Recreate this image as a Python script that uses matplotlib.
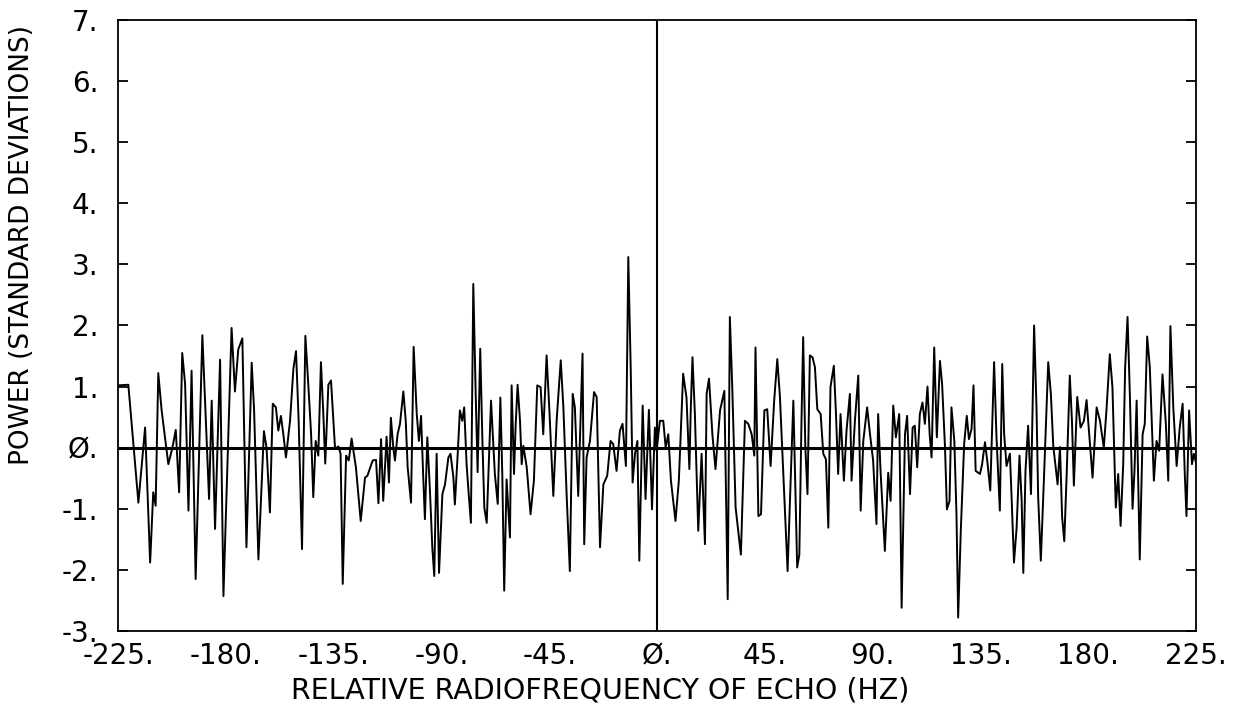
import matplotlib
matplotlib.use("Agg")
from matplotlib import pyplot

# frequency (Hz) and power (standard deviations)
freq = [-225.0, -220.7, -216.5, -213.7, -211.6, -210.3, -209.3, -208.2, -206.8, -204.0,
        -202.3, -200.9, -199.5, -198.2, -197.0, -195.6, -194.3, -192.6, -189.8, -187.0,
        -185.9, -184.5, -182.4, -181.0, -177.6, -176.2, -174.8, -173.1, -171.4, -169.2,
        -168.2, -166.4, -164.1, -163.0, -161.6, -160.4, -159.1, -158.1, -157.0, -156.0,
        -154.9, -153.2, -151.8, -150.7, -149.6, -148.2, -146.8, -145.6, -144.4, -143.5,
        -142.5, -141.4, -140.3, -139.3, -138.5, -137.2, -136.1, -134.4, -133.0, -132.1,
        -131.2, -129.8, -128.7, -127.5, -125.7, -123.7, -121.9, -120.9, -118.7, -117.3,
        -116.3, -115.2, -114.3, -112.9,
        -111.9, -111.1, -110.1, -109.4, -108.3, -107.3, -105.9, -104.9, -104.1, -102.7,
        -101.6, -100.3, -99.4, -98.5, -97.6, -96.9, -95.9, -94.8, -93.8, -93.0,
        -92.0, -91.0, -89.6, -88.5, -87.1, -86.2, -85.0, -84.4, -83.2, -82.3,
        -81.3, -80.5, -79.5, -78.8, -77.7, -76.7, -75.7, -74.9, -73.8, -72.9,
        -72.1, -71.1, -69.3, -67.7, -66.5, -65.4, -64.6, -63.8, -62.8, -61.4,
        -60.7, -59.7, -59.0, -58.2, -57.2, -56.5,
        -55.8, -54.4, -52.8, -51.4, -50.0, -48.6, -47.5, -46.1, -45.0, -43.3,
        -41.9, -40.2, -39.1, -37.7, -36.4, -35.2, -34.3, -32.9, -32.2, -31.1,
        -30.4, -29.4, -28.0, -26.3, -25.2, -23.8, -22.4, -20.8, -19.4, -18.3,
        -16.9, -15.5, -14.4, -13.0, -12.0, -11.0, -10.2, -9.2, -8.2, -7.4,
        -6.0, -4.8, -3.4, -2.1, -0.9,
        -0.2, 1.2, 2.6, 3.6, 4.7, 5.8, 7.7, 9.1, 10.9, 12.3,
        13.5, 14.1, 14.8, 15.8, 17.2, 18.6, 20.0, 20.7, 21.7, 23.1,
        24.4, 26.3, 28.1, 29.5, 30.4, 31.4, 32.8, 35.0, 36.7, 38.1,
        39.5, 40.6, 41.1, 42.3, 43.4, 44.8, 46.0, 47.4, 48.9, 50.2,
        51.3, 52.7, 54.5, 56.9,
        58.5, 59.4, 60.3, 61.0, 61.9, 62.8, 63.8, 64.9, 65.9, 66.9,
        68.3, 69.4, 70.5, 71.5, 72.4, 73.8, 74.7, 75.6, 76.6, 78.0,
        79.1, 80.5, 81.2, 82.6, 84.0, 85.0, 86.1, 87.7, 88.9, 90.2,
        91.6, 92.3, 93.3, 95.1, 96.5, 97.5, 98.6, 99.7, 101.1, 102.1,
        103.5, 104.4, 105.6, 106.7, 107.6, 108.6, 109.7, 110.8, 111.8, 112.9,
        113.8, 114.6, 115.7, 116.8, 118.1, 119.0, 120.2, 121.0, 122.1, 122.9,
        124.1, 125.0, 125.7, 126.8, 128.2, 129.3, 130.2, 131.3, 132.1, 133.0,
        134.8, 135.7, 136.9, 138.0, 139.1, 140.7, 141.7, 143.1, 144.1, 144.9,
        145.9, 147.3, 148.0, 149.0, 150.1, 151.3, 152.2, 152.9, 153.8, 154.9,
        156.1, 157.4, 158.4, 159.1, 160.2, 161.6, 163.3, 164.4, 165.4, 167.2,
        168.2, 169.1, 170.0,
        171.0, 172.3, 173.2, 174.0, 175.4, 176.8, 178.2, 179.3, 180.4, 181.8,
        183.5, 184.9, 186.5, 187.6, 189.0, 190.1, 191.5, 192.5, 193.5, 194.6,
        195.4, 196.4, 197.4, 198.5, 199.3, 200.2, 201.5, 202.7, 203.6, 204.6,
        205.7, 207.4, 208.5, 209.6, 211.0, 212.4, 213.4, 214.3, 215.5, 216.9,
        218.2, 219.4, 220.3, 221.0, 222.1, 223.3, 224.1, 225.0]

power = [1.02, 1.03, -0.90, 0.33, -1.88, -0.73, -0.95, 1.22, 0.61, -0.27,
         0.00, 0.29, -0.73, 1.55, 1.04, -1.03, 1.26, -2.15, 1.84, -0.84,
         0.77, -1.33, 1.44, -2.43, 1.96, 0.92, 1.61, 1.79, -1.63, 1.39,
         0.61, -1.83, 0.27, 0.00, -1.06, 0.72, 0.66, 0.28, 0.52, 0.22,
         -0.16, 0.44, 1.29, 1.58, 0.44, -1.66, 1.83, 1.05, 0.22, -0.81,
         0.11, -0.13, 1.40, 0.55, -0.26, 1.03, 1.10, -0.02, 0.02, -0.10,
         -2.23, -0.13, -0.21, 0.15, -0.32, -1.20, -0.49, -0.46, -0.21, -0.20,
         -0.91, 0.14, -0.87, 0.18,
         -0.57, 0.49, 0.00, -0.21, 0.22, 0.39, 0.92, 0.44, -0.32, -0.90,
         1.65, 0.55, 0.11, 0.52, -0.48, -1.17, 0.17, -0.70, -1.64, -2.10,
         -0.10, -2.05, -0.76, -0.60, -0.16, -0.10, -0.49, -0.93, -0.10, 0.61,
         0.44, 0.66, -0.27, -0.66, -1.23, 2.68, 0.88, -0.40, 1.62, 0.11,
         -0.98, -1.23, 0.77, -0.43, -0.92, 0.82, -0.43, -2.34, -0.52, -1.47,
         1.02, -0.43, 0.39, 1.03, 0.44, -0.27,
         0.03, -0.32, -1.09, -0.54, 1.02, 0.99, 0.22, 1.51, 0.66, -0.79,
         0.45, 1.43, 0.66, -0.81, -2.02, 0.88, 0.66, -0.79, 0.11, 1.54,
         -1.58, -0.16, 0.11, 0.91, 0.83, -1.63, -0.60, -0.46, 0.11, 0.06,
         -0.38, 0.28, 0.39, -0.30, 3.12, 1.32, -0.57, -0.10, 0.11, -1.85,
         0.69, -0.84, 0.62, -1.01, 0.33,
         -0.05, 0.44, 0.44, 0.00, 0.22, -0.54, -1.20, -0.54, 1.21, 0.82,
         -0.35, 0.66, 1.48, 0.55, -1.36, -0.10, -1.58, 0.88, 1.13, 0.22,
         -0.35, 0.61, 0.93, -2.48, 2.14, 0.99, -0.98, -1.75, 0.44, 0.39,
         0.22, -0.13, 1.64, -1.12, -1.09, 0.61, 0.63, -0.30, 0.77, 1.45,
         0.83, -0.43, -2.02, 0.77,
         -1.96, -1.75, 0.44, 1.81, 0.01, -0.76, 1.51, 1.48, 1.32, 0.63,
         0.55, -0.10, -0.19, -1.31, 0.99, 1.34, 0.55, -0.43, 0.55, -0.54,
         0.28, 0.88, -0.54, 0.44, 1.18, -1.03, 0.11, 0.66, 0.22, -0.21,
         -1.25, 0.55, -0.38, -1.69, -0.41, -0.87, 0.69, 0.17, 0.55, -2.62,
         0.22, 0.52, -0.76, 0.33, 0.36, -0.32, 0.55, 0.74, 0.39, 1.00,
         0.22, -0.16, 1.64, 0.17, 1.42, 1.04, 0.01, -1.01, -0.87, 0.66,
         0.11, -1.09, -2.78, -1.36, 0.06, 0.52, 0.14, 0.31, 1.02, -0.38,
         -0.43, -0.27, 0.09, -0.27, -0.70, 1.40, 0.17, -1.03, 1.37, 0.22,
         -0.30, -0.10, -0.81, -1.88, -1.31, -0.13, -0.87, -2.05, -0.38, 0.36,
         -0.76, 2.00, 0.66, -0.81, -1.85, -0.41, 1.40, 0.88, 0.03, -0.60,
         0.01, -1.14, -1.53,
         -0.43, 1.18, 0.44, -0.62, 0.83, 0.33, 0.44, 0.78, 0.22, -0.49,
         0.66, 0.44, 0.00, 0.61, 1.53, 0.99, -0.98, -0.43, -1.28, -0.27,
         1.31, 2.14, 0.83, -1.00, -0.38, 0.77, -1.83, 0.22, 0.39, 1.82,
         1.32, -0.54, 0.11, -0.05, 1.20, 0.39, -0.54, 1.99, 0.66, -0.30,
         0.33, 0.72, -0.43, -1.12, 0.61, -0.27, -0.10, -0.25]

xticks = [-225, -180, -135, -90, -45, 0, 45, 90, 135, 180, 225]
xticklabels = ["-225.", "-180.", "-135.", "-90.", "-45.", "Ø.", "45.", "90.", "135.", "180.", "225."]
yticks = [7, 6, 5, 4, 3, 2, 1, 0, -1, -2, -3]
yticklabels = ["7.", "6.", "5.", "4.", "3.", "2.", "1.", "Ø.", "-1.", "-2.", "-3."]

fig = pyplot.figure(figsize=(12.49, 7.25), dpi=100)
ax = fig.add_axes([0.0945, 0.1297, 0.8631, 0.8427])

ax.plot(freq, power, color="black", linewidth=1.4)
ax.axhline(0, color="black", linewidth=2.2)
ax.axvline(0, color="black", linewidth=1.5)

ax.set_xlim(-225, 225)
ax.set_ylim(-3, 7)
for s in ax.spines.values():
    s.set_linewidth(1.3)

ax.set_xticks(xticks)
ax.set_xticklabels(xticklabels, fontsize=20)
ax.set_yticks(yticks)
ax.set_yticklabels(yticklabels, fontsize=20)
ax.tick_params(axis="y", direction="in", length=7, width=1.3, right=True, pad=14)
ax.tick_params(axis="x", direction="in", length=0, pad=8)

ax.set_xlabel("RELATIVE RADIOFREQUENCY OF ECHO (HZ)", fontsize=20.5, va="center")
ax.xaxis.set_label_coords(0.447, -0.097)
ax.set_ylabel("POWER (STANDARD DEVIATIONS)", fontsize=19, va="center")
ax.yaxis.set_label_coords(-0.089, 0.632)

pyplot.savefig("out.png", dpi=100)
